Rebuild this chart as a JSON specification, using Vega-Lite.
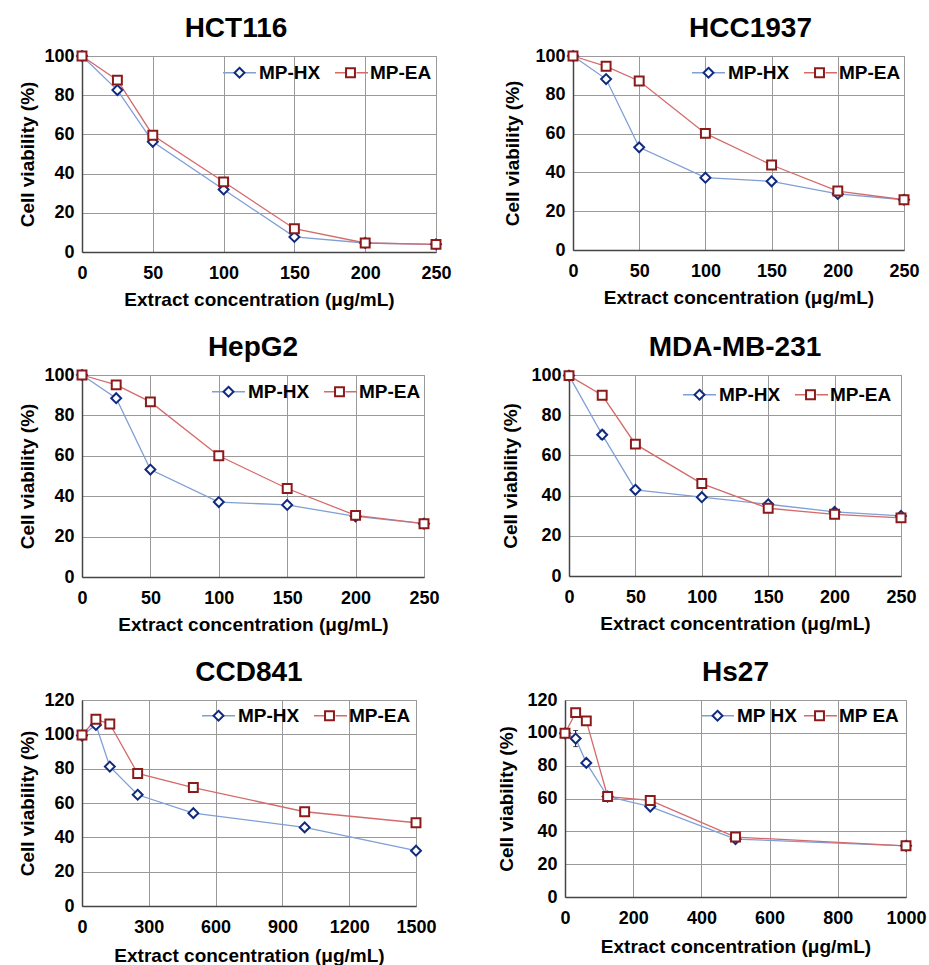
{
  "$schema": "https://vega.github.io/schema/vega-lite/v6.json",
  "background": "white",
  "padding": {"left": 18, "top": 14, "right": 2, "bottom": 0},
  "config": {
    "font": "Liberation Sans",
    "view": {"stroke": "#8c8c8c", "strokeWidth": 1},
    "title": {"font": "Liberation Sans", "fontSize": 28, "fontWeight": "bold", "color": "black", "offset": 4, "anchor": "middle", "frame": "group"},
    "axis": {
      "labelFont": "Liberation Sans", "labelFontSize": 18, "labelFontWeight": "bold", "labelColor": "black",
      "titleFont": "Liberation Sans", "titleFontSize": 19, "titleFontWeight": "bold", "titleColor": "black",
      "gridColor": "#9a9a9a", "gridWidth": 1, "gridOpacity": 1,
      "domainColor": "#444444", "domainWidth": 1.5,
      "ticks": false, "labelFlush": false, "labelOverlap": false, "format": "d"
    },
    "axisX": {"labelPadding": 12, "titlePadding": 8},
    "axisY": {"labelPadding": 8, "titlePadding": 6},
    "point": {"size": 1089, "strokeWidth": 2, "filled": true, "fill": "white", "opacity": 1},
    "legend": {
      "orient": "none", "direction": "horizontal", "padding": 0, "title": null,
      "labelFont": "Liberation Sans", "labelFontSize": 19, "labelFontWeight": "bold", "labelColor": "black",
      "labelOffset": 2, "columnPadding": 12, "symbolSize": 1089
    }
  },
  "datasets": {
    "viability": [
      {"cell": "HCT116", "series": "MP-HX", "conc": 0, "v": 100},
      {"cell": "HCT116", "series": "MP-HX", "conc": 25, "v": 82.6},
      {"cell": "HCT116", "series": "MP-HX", "conc": 50, "v": 56.2},
      {"cell": "HCT116", "series": "MP-HX", "conc": 100, "v": 31.9},
      {"cell": "HCT116", "series": "MP-HX", "conc": 150, "v": 7.7},
      {"cell": "HCT116", "series": "MP-HX", "conc": 200, "v": 4.6},
      {"cell": "HCT116", "series": "MP-HX", "conc": 250, "v": 3.9},
      {"cell": "HCT116", "series": "MP-EA", "conc": 0, "v": 100},
      {"cell": "HCT116", "series": "MP-EA", "conc": 25, "v": 87.7},
      {"cell": "HCT116", "series": "MP-EA", "conc": 50, "v": 59.6},
      {"cell": "HCT116", "series": "MP-EA", "conc": 100, "v": 35.8},
      {"cell": "HCT116", "series": "MP-EA", "conc": 150, "v": 11.9},
      {"cell": "HCT116", "series": "MP-EA", "conc": 200, "v": 4.6},
      {"cell": "HCT116", "series": "MP-EA", "conc": 250, "v": 3.9},

      {"cell": "HCC1937", "series": "MP-HX", "conc": 0, "v": 100},
      {"cell": "HCC1937", "series": "MP-HX", "conc": 25, "v": 88.1},
      {"cell": "HCC1937", "series": "MP-HX", "conc": 50, "v": 52.9},
      {"cell": "HCC1937", "series": "MP-HX", "conc": 100, "v": 37.3},
      {"cell": "HCC1937", "series": "MP-HX", "conc": 150, "v": 35.4},
      {"cell": "HCC1937", "series": "MP-HX", "conc": 200, "v": 28.9},
      {"cell": "HCC1937", "series": "MP-HX", "conc": 250, "v": 25.9},
      {"cell": "HCC1937", "series": "MP-EA", "conc": 0, "v": 100},
      {"cell": "HCC1937", "series": "MP-EA", "conc": 25, "v": 94.7},
      {"cell": "HCC1937", "series": "MP-EA", "conc": 50, "v": 87.1},
      {"cell": "HCC1937", "series": "MP-EA", "conc": 100, "v": 60.1},
      {"cell": "HCC1937", "series": "MP-EA", "conc": 150, "v": 43.8},
      {"cell": "HCC1937", "series": "MP-EA", "conc": 200, "v": 30.4},
      {"cell": "HCC1937", "series": "MP-EA", "conc": 250, "v": 25.9},

      {"cell": "HepG2", "series": "MP-HX", "conc": 0, "v": 100},
      {"cell": "HepG2", "series": "MP-HX", "conc": 25, "v": 88.5},
      {"cell": "HepG2", "series": "MP-HX", "conc": 50, "v": 53.2},
      {"cell": "HepG2", "series": "MP-HX", "conc": 100, "v": 37.1},
      {"cell": "HepG2", "series": "MP-HX", "conc": 150, "v": 35.7},
      {"cell": "HepG2", "series": "MP-HX", "conc": 200, "v": 30.0},
      {"cell": "HepG2", "series": "MP-HX", "conc": 250, "v": 26.4},
      {"cell": "HepG2", "series": "MP-EA", "conc": 0, "v": 100},
      {"cell": "HepG2", "series": "MP-EA", "conc": 25, "v": 95.1},
      {"cell": "HepG2", "series": "MP-EA", "conc": 50, "v": 86.7},
      {"cell": "HepG2", "series": "MP-EA", "conc": 100, "v": 60.0},
      {"cell": "HepG2", "series": "MP-EA", "conc": 150, "v": 43.8},
      {"cell": "HepG2", "series": "MP-EA", "conc": 200, "v": 30.5},
      {"cell": "HepG2", "series": "MP-EA", "conc": 250, "v": 26.4},

      {"cell": "MDA-MB-231", "series": "MP-HX", "conc": 0, "v": 99.7},
      {"cell": "MDA-MB-231", "series": "MP-HX", "conc": 25, "v": 70.3, "err": 2.2},
      {"cell": "MDA-MB-231", "series": "MP-HX", "conc": 50, "v": 42.9},
      {"cell": "MDA-MB-231", "series": "MP-HX", "conc": 100, "v": 39.2},
      {"cell": "MDA-MB-231", "series": "MP-HX", "conc": 150, "v": 35.7},
      {"cell": "MDA-MB-231", "series": "MP-HX", "conc": 200, "v": 31.9},
      {"cell": "MDA-MB-231", "series": "MP-HX", "conc": 250, "v": 29.9},
      {"cell": "MDA-MB-231", "series": "MP-EA", "conc": 0, "v": 99.7},
      {"cell": "MDA-MB-231", "series": "MP-EA", "conc": 25, "v": 89.9},
      {"cell": "MDA-MB-231", "series": "MP-EA", "conc": 50, "v": 65.6},
      {"cell": "MDA-MB-231", "series": "MP-EA", "conc": 100, "v": 46.0},
      {"cell": "MDA-MB-231", "series": "MP-EA", "conc": 150, "v": 33.7},
      {"cell": "MDA-MB-231", "series": "MP-EA", "conc": 200, "v": 30.7},
      {"cell": "MDA-MB-231", "series": "MP-EA", "conc": 250, "v": 28.9},

      {"cell": "CCD841", "series": "MP-HX", "conc": 0, "v": 99.3},
      {"cell": "CCD841", "series": "MP-HX", "conc": 62.5, "v": 105.5},
      {"cell": "CCD841", "series": "MP-HX", "conc": 125, "v": 81.2},
      {"cell": "CCD841", "series": "MP-HX", "conc": 250, "v": 64.8},
      {"cell": "CCD841", "series": "MP-HX", "conc": 500, "v": 54.1},
      {"cell": "CCD841", "series": "MP-HX", "conc": 1000, "v": 45.8},
      {"cell": "CCD841", "series": "MP-HX", "conc": 1500, "v": 32.2},
      {"cell": "CCD841", "series": "MP-EA", "conc": 0, "v": 99.6},
      {"cell": "CCD841", "series": "MP-EA", "conc": 62.5, "v": 108.8},
      {"cell": "CCD841", "series": "MP-EA", "conc": 125, "v": 106.0},
      {"cell": "CCD841", "series": "MP-EA", "conc": 250, "v": 77.2},
      {"cell": "CCD841", "series": "MP-EA", "conc": 500, "v": 69.0},
      {"cell": "CCD841", "series": "MP-EA", "conc": 1000, "v": 54.9},
      {"cell": "CCD841", "series": "MP-EA", "conc": 1500, "v": 48.5},

      {"cell": "Hs27", "series": "MP HX", "conc": 0, "v": 99.7},
      {"cell": "Hs27", "series": "MP HX", "conc": 31.25, "v": 96.5, "err": 4.9},
      {"cell": "Hs27", "series": "MP HX", "conc": 62.5, "v": 81.7},
      {"cell": "Hs27", "series": "MP HX", "conc": 125, "v": 61.2},
      {"cell": "Hs27", "series": "MP HX", "conc": 250, "v": 55.1},
      {"cell": "Hs27", "series": "MP HX", "conc": 500, "v": 35.3},
      {"cell": "Hs27", "series": "MP HX", "conc": 1000, "v": 31.2},
      {"cell": "Hs27", "series": "MP EA", "conc": 0, "v": 99.7},
      {"cell": "Hs27", "series": "MP EA", "conc": 31.25, "v": 112.3},
      {"cell": "Hs27", "series": "MP EA", "conc": 62.5, "v": 107.3},
      {"cell": "Hs27", "series": "MP EA", "conc": 125, "v": 61.2},
      {"cell": "Hs27", "series": "MP EA", "conc": 250, "v": 58.8},
      {"cell": "Hs27", "series": "MP EA", "conc": 500, "v": 36.5},
      {"cell": "Hs27", "series": "MP EA", "conc": 1000, "v": 31.2}
    ]
  },
  "data": {"name": "viability"},
  "spacing": 23,
  "resolve": {
    "scale": {"x": "independent", "y": "independent", "color": "independent", "stroke": "independent", "shape": "independent"},
    "legend": {"color": "independent", "stroke": "independent", "shape": "independent"}
  },
  "vconcat": [
    {
      "hconcat": [
        {
          "title": {"text": "HCT116", "dx": -23},
          "width": 354, "height": 196,
          "transform": [{"filter": "datum.cell === 'HCT116'"}],
          "encoding": {
            "x": {"field": "conc", "type": "quantitative", "scale": {"domain": [0, 250], "nice": false}, "axis": {"values": [0, 50, 100, 150, 200, 250], "title": "Extract concentration (μg/mL)"}},
            "y": {"field": "v", "type": "quantitative", "scale": {"domain": [0, 100], "nice": false}, "axis": {"values": [0, 20, 40, 60, 80, 100], "title": "Cell viability (%)"}}
          },
          "layer": [
            {"mark": {"type": "line", "strokeWidth": 1.3},
             "encoding": {"color": {"field": "series", "type": "nominal", "scale": {"domain": ["MP-HX", "MP-EA"], "range": ["#7f9fd6", "#d46a6a"]},
               "legend": {"legendX": 140, "legendY": -1, "columnPadding": 73, "labelExpr": "''", "symbolType": "M-1,0H-0.3M0.3,0H1", "symbolStrokeWidth": 1.3}}}},
            {"mark": {"type": "point"},
             "encoding": {
               "stroke": {"field": "series", "type": "nominal", "sort": "descending", "scale": {"range": ["#102a80", "#8b1a1a"]},
                 "legend": {"legendX": 140, "legendY": -1, "symbolFillColor": "white", "symbolStrokeWidth": 2}},
               "shape": {"field": "series", "type": "nominal", "sort": "descending", "scale": {"range": ["M0,-0.3L0.3,0L0,0.3L-0.3,0Z", "M-0.27,-0.27H0.27V0.27H-0.27Z"]},
                 "legend": {"legendX": 140, "legendY": -1, "symbolFillColor": "white", "symbolStrokeWidth": 2}}
             }}
          ]
        },
        {
          "title": {"text": "HCC1937", "dx": 12},
          "width": 331, "height": 194,
          "transform": [{"filter": "datum.cell === 'HCC1937'"}],
          "encoding": {
            "x": {"field": "conc", "type": "quantitative", "scale": {"domain": [0, 250], "nice": false}, "axis": {"values": [0, 50, 100, 150, 200, 250], "title": "Extract concentration (μg/mL)"}},
            "y": {"field": "v", "type": "quantitative", "scale": {"domain": [0, 100], "nice": false}, "axis": {"values": [0, 20, 40, 60, 80, 100], "title": "Cell viability (%)", "titlePadding": 12}}
          },
          "layer": [
            {"mark": {"type": "line", "strokeWidth": 1.3},
             "encoding": {"color": {"field": "series", "type": "nominal", "scale": {"domain": ["MP-HX", "MP-EA"], "range": ["#7f9fd6", "#d46a6a"]},
               "legend": {"legendX": 118, "legendY": -1, "columnPadding": 73, "labelExpr": "''", "symbolType": "M-1,0H-0.3M0.3,0H1", "symbolStrokeWidth": 1.3}}}},
            {"mark": {"type": "point"},
             "encoding": {
               "stroke": {"field": "series", "type": "nominal", "sort": "descending", "scale": {"range": ["#102a80", "#8b1a1a"]},
                 "legend": {"legendX": 118, "legendY": -1, "symbolFillColor": "white", "symbolStrokeWidth": 2}},
               "shape": {"field": "series", "type": "nominal", "sort": "descending", "scale": {"range": ["M0,-0.3L0.3,0L0,0.3L-0.3,0Z", "M-0.27,-0.27H0.27V0.27H-0.27Z"]},
                 "legend": {"legendX": 118, "legendY": -1, "symbolFillColor": "white", "symbolStrokeWidth": 2}}
             }}
          ]
        }
      ],
      "spacing": 51,
      "resolve": {
        "scale": {"x": "independent", "y": "independent", "color": "independent", "stroke": "independent", "shape": "independent"},
        "legend": {"color": "independent", "stroke": "independent", "shape": "independent"}
      }
    },
    {
      "hconcat": [
        {
          "title": {"text": "HepG2"},
          "width": 342, "height": 202,
          "transform": [{"filter": "datum.cell === 'HepG2'"}],
          "encoding": {
            "x": {"field": "conc", "type": "quantitative", "scale": {"domain": [0, 250], "nice": false}, "axis": {"values": [0, 50, 100, 150, 200, 250], "title": "Extract concentration (μg/mL)"}},
            "y": {"field": "v", "type": "quantitative", "scale": {"domain": [0, 100], "nice": false}, "axis": {"values": [0, 20, 40, 60, 80, 100], "title": "Cell viability (%)"}}
          },
          "layer": [
            {"mark": {"type": "line", "strokeWidth": 1.3},
             "encoding": {"color": {"field": "series", "type": "nominal", "scale": {"domain": ["MP-HX", "MP-EA"], "range": ["#7f9fd6", "#d46a6a"]},
               "legend": {"legendX": 129, "legendY": -1, "columnPadding": 73, "labelExpr": "''", "symbolType": "M-1,0H-0.3M0.3,0H1", "symbolStrokeWidth": 1.3}}}},
            {"mark": {"type": "point"},
             "encoding": {
               "stroke": {"field": "series", "type": "nominal", "sort": "descending", "scale": {"range": ["#102a80", "#8b1a1a"]},
                 "legend": {"legendX": 129, "legendY": -1, "symbolFillColor": "white", "symbolStrokeWidth": 2}},
               "shape": {"field": "series", "type": "nominal", "sort": "descending", "scale": {"range": ["M0,-0.3L0.3,0L0,0.3L-0.3,0Z", "M-0.27,-0.27H0.27V0.27H-0.27Z"]},
                 "legend": {"legendX": 129, "legendY": -1, "symbolFillColor": "white", "symbolStrokeWidth": 2}}
             }}
          ]
        },
        {
          "title": {"text": "MDA-MB-231"},
          "width": 332, "height": 201,
          "transform": [{"filter": "datum.cell === 'MDA-MB-231'"}],
          "encoding": {
            "x": {"field": "conc", "type": "quantitative", "scale": {"domain": [0, 250], "nice": false}, "axis": {"values": [0, 50, 100, 150, 200, 250], "title": "Extract concentration (μg/mL)"}},
            "y": {"field": "v", "type": "quantitative", "scale": {"domain": [0, 100], "nice": false}, "axis": {"values": [0, 20, 40, 60, 80, 100], "title": "Cell viability (%)", "titlePadding": 10}}
          },
          "layer": [
            {"mark": {"type": "line", "strokeWidth": 1.3},
             "encoding": {"color": {"field": "series", "type": "nominal", "scale": {"domain": ["MP-HX", "MP-EA"], "range": ["#7f9fd6", "#d46a6a"]},
               "legend": {"legendX": 113, "legendY": 2, "columnPadding": 73, "labelExpr": "''", "symbolType": "M-1,0H-0.3M0.3,0H1", "symbolStrokeWidth": 1.3}}}},
            {"mark": {"type": "errorbar", "color": "black", "ticks": true},
             "transform": [{"filter": "datum.err > 0"}],
             "encoding": {"yError": {"field": "err"}}},
            {"mark": {"type": "point"},
             "encoding": {
               "stroke": {"field": "series", "type": "nominal", "sort": "descending", "scale": {"range": ["#102a80", "#8b1a1a"]},
                 "legend": {"legendX": 113, "legendY": 2, "symbolFillColor": "white", "symbolStrokeWidth": 2}},
               "shape": {"field": "series", "type": "nominal", "sort": "descending", "scale": {"range": ["M0,-0.3L0.3,0L0,0.3L-0.3,0Z", "M-0.27,-0.27H0.27V0.27H-0.27Z"]},
                 "legend": {"legendX": 113, "legendY": 2, "symbolFillColor": "white", "symbolStrokeWidth": 2}}
             }}
          ]
        }
      ],
      "spacing": 61,
      "resolve": {
        "scale": {"x": "independent", "y": "independent", "color": "independent", "stroke": "independent", "shape": "independent"},
        "legend": {"color": "independent", "stroke": "independent", "shape": "independent"}
      }
    },
    {
      "hconcat": [
        {
          "title": {"text": "CCD841"},
          "width": 334, "height": 206,
          "transform": [{"filter": "datum.cell === 'CCD841'"}],
          "encoding": {
            "x": {"field": "conc", "type": "quantitative", "scale": {"domain": [0, 1500], "nice": false}, "axis": {"values": [0, 300, 600, 900, 1200, 1500], "title": "Extract concentration (μg/mL)", "titlePadding": 10}},
            "y": {"field": "v", "type": "quantitative", "scale": {"domain": [0, 120], "nice": false}, "axis": {"values": [0, 20, 40, 60, 80, 100, 120], "title": "Cell viability (%)"}}
          },
          "layer": [
            {"mark": {"type": "line", "strokeWidth": 1.3},
             "encoding": {"color": {"field": "series", "type": "nominal", "scale": {"domain": ["MP-HX", "MP-EA"], "range": ["#7f9fd6", "#d46a6a"]},
               "legend": {"legendX": 119, "legendY": -2, "columnPadding": 73, "labelExpr": "''", "symbolType": "M-1,0H-0.3M0.3,0H1", "symbolStrokeWidth": 1.3}}}},
            {"mark": {"type": "point"},
             "encoding": {
               "stroke": {"field": "series", "type": "nominal", "sort": "descending", "scale": {"range": ["#102a80", "#8b1a1a"]},
                 "legend": {"legendX": 119, "legendY": -2, "symbolFillColor": "white", "symbolStrokeWidth": 2}},
               "shape": {"field": "series", "type": "nominal", "sort": "descending", "scale": {"range": ["M0,-0.3L0.3,0L0,0.3L-0.3,0Z", "M-0.27,-0.27H0.27V0.27H-0.27Z"]},
                 "legend": {"legendX": 119, "legendY": -2, "symbolFillColor": "white", "symbolStrokeWidth": 2}}
             }}
          ]
        },
        {
          "title": {"text": "Hs27"},
          "width": 341, "height": 197,
          "transform": [{"filter": "datum.cell === 'Hs27'"}],
          "encoding": {
            "x": {"field": "conc", "type": "quantitative", "scale": {"domain": [0, 1000], "nice": false}, "axis": {"values": [0, 200, 400, 600, 800, 1000], "title": "Extract concentration (μg/mL)", "titlePadding": 10}},
            "y": {"field": "v", "type": "quantitative", "scale": {"domain": [0, 120], "nice": false}, "axis": {"values": [0, 20, 40, 60, 80, 100, 120], "title": "Cell viability (%)", "titlePadding": 10}}
          },
          "layer": [
            {"mark": {"type": "line", "strokeWidth": 1.3},
             "encoding": {"color": {"field": "series", "type": "nominal", "scale": {"domain": ["MP HX", "MP EA"], "range": ["#7f9fd6", "#d46a6a"]},
               "legend": {"legendX": 135, "legendY": -2, "columnPadding": 64, "labelExpr": "''", "symbolType": "M-1,0H-0.3M0.3,0H1", "symbolStrokeWidth": 1.3}}}},
            {"mark": {"type": "errorbar", "color": "black", "ticks": true},
             "transform": [{"filter": "datum.err > 0"}],
             "encoding": {"yError": {"field": "err"}}},
            {"mark": {"type": "point"},
             "encoding": {
               "stroke": {"field": "series", "type": "nominal", "sort": "descending", "scale": {"range": ["#102a80", "#8b1a1a"]},
                 "legend": {"legendX": 135, "legendY": -2, "columnPadding": 4, "symbolFillColor": "white", "symbolStrokeWidth": 2}},
               "shape": {"field": "series", "type": "nominal", "sort": "descending", "scale": {"range": ["M0,-0.3L0.3,0L0,0.3L-0.3,0Z", "M-0.27,-0.27H0.27V0.27H-0.27Z"]},
                 "legend": {"legendX": 135, "legendY": -2, "columnPadding": 4, "symbolFillColor": "white", "symbolStrokeWidth": 2}}
             }}
          ]
        }
      ],
      "spacing": 60,
      "resolve": {
        "scale": {"x": "independent", "y": "independent", "color": "independent", "stroke": "independent", "shape": "independent"},
        "legend": {"color": "independent", "stroke": "independent", "shape": "independent"}
      }
    }
  ]
}
